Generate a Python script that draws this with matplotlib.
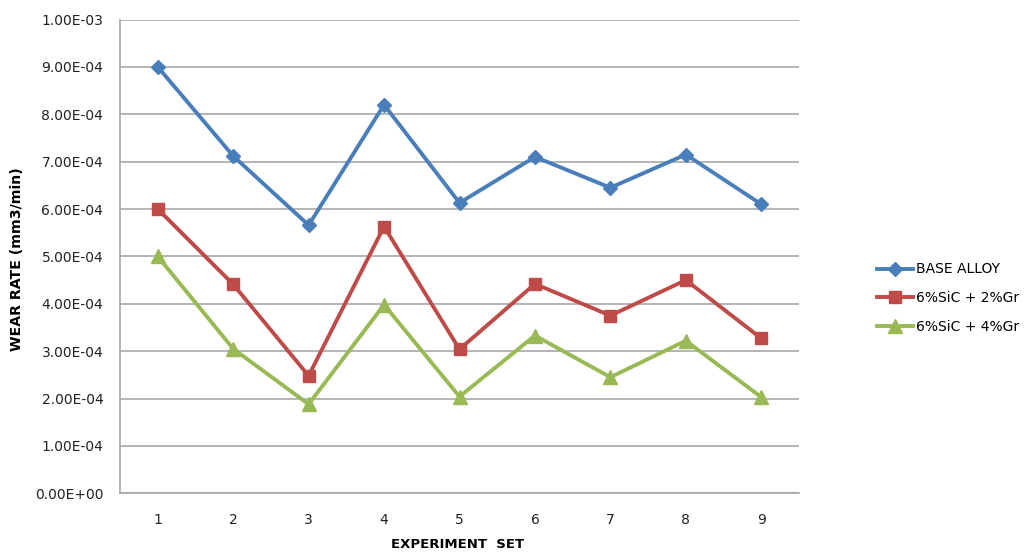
import matplotlib.pyplot as plt
from matplotlib.ticker import FuncFormatter

# Wear rate per experiment set for each material
experiment_set = [1, 2, 3, 4, 5, 6, 7, 8, 9]
base_alloy = [9.00e-4, 7.12e-4, 5.66e-4, 8.20e-4, 6.13e-4, 7.10e-4, 6.45e-4, 7.15e-4, 6.10e-4]
sic6_gr2 = [6.00e-4, 4.41e-4, 2.48e-4, 5.63e-4, 3.04e-4, 4.42e-4, 3.75e-4, 4.50e-4, 3.27e-4]
sic6_gr4 = [5.00e-4, 3.05e-4, 1.88e-4, 3.98e-4, 2.04e-4, 3.33e-4, 2.45e-4, 3.22e-4, 2.03e-4]

series_labels = ["BASE ALLOY", "6%SiC + 2%Gr", "6%SiC + 4%Gr"]
y_ticks = [i * 1e-4 for i in range(11)]


def sci_fmt(v, pos):
    s = "%.2E" % v
    mant, exp = s.split("E")
    sign = exp[0]
    return "%sE%s%02d" % (mant, sign, abs(int(exp)))


def main():
    fig = plt.figure(figsize=(10.24, 5.53), dpi=100)
    ax = fig.add_axes([120 / 1024, 1 - 493.3 / 553, 679 / 1024, (493.3 - 19.5) / 553])

    ax.plot(experiment_set, base_alloy, color="#4A7EBB", lw=2.8, marker="D",
            ms=7.5, label=series_labels[0])
    ax.plot(experiment_set, sic6_gr2, color="#BE4B48", lw=2.8, marker="s",
            ms=8.5, label=series_labels[1])
    ax.plot(experiment_set, sic6_gr4, color="#98B954", lw=2.8, marker="^",
            ms=9.5, label=series_labels[2])

    ax.set_xlim(0.5, 9.5)
    ax.set_ylim(0, 1e-3)
    ax.set_xticks(experiment_set)
    ax.set_yticks(y_ticks)
    ax.yaxis.set_major_formatter(FuncFormatter(sci_fmt))
    ax.tick_params(axis="both", length=0, labelsize=10, colors="#222222")
    ax.tick_params(axis="x", pad=14)
    ax.tick_params(axis="y", pad=12)

    ax.grid(axis="y", color="#A0A0A0", lw=1.1)
    ax.set_axisbelow(True)
    for side in ["top", "right"]:
        ax.spines[side].set_visible(False)
    for side in ["left", "bottom"]:
        ax.spines[side].set_color("#A0A0A0")
        ax.spines[side].set_linewidth(1.1)

    fig.text(458 / 1024, 1 - 545 / 553, "EXPERIMENT  SET", ha="center", va="center",
             fontsize=9.5, fontweight="bold")
    fig.text(17 / 1024, 1 - 259 / 553, "WEAR RATE (mm3/min)", ha="center", va="center",
             rotation=90, fontsize=10.2, fontweight="bold")

    fig.legend(loc="center left", bbox_to_anchor=(864 / 1024, 1 - 298 / 553),
               frameon=False, fontsize=10, handlelength=2.6, handletextpad=0.25,
               labelspacing=1.05)

    fig.savefig("out.png", dpi=100)


if __name__ == "__main__":
    main()
